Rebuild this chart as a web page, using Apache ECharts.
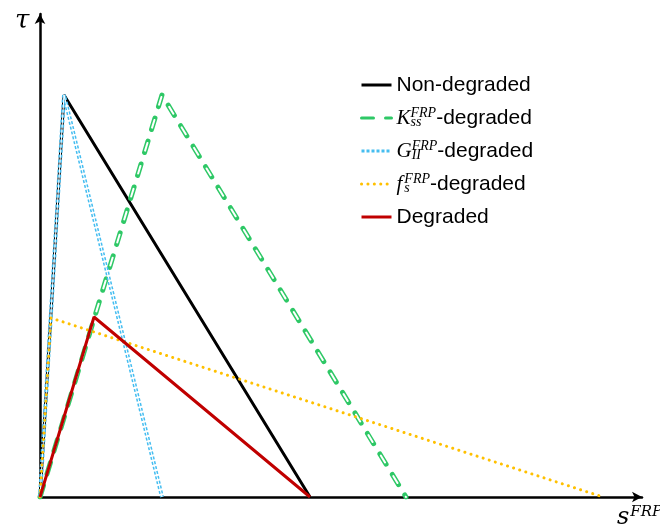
<!DOCTYPE html>
<html>
<head>
<meta charset="utf-8">
<script src="https://cdn.jsdelivr.net/npm/echarts@6/dist/echarts.min.js"></script>
<style>
  html, body { margin: 0; padding: 0; background: #fff; }
  #chart { width: 660px; height: 529px; }
</style>
</head>
<body>
<div id="chart"></div>
<script>
// Bond-slip (tau vs s) laws: trilinear points [slip, stress]
const seriesNames = ['Non-degraded', 'Kss-degraded', 'GII-degraded', 'fs-degraded', 'Degraded'];
const nonDegraded = [[0, 0], [24, 402], [270, 0]];
const kssDegraded = [[0, 0], [122, 402], [366, 0]];
const giiDegraded = [[0, 0], [24, 402], [122, 0]];
const fsDegraded  = [[0, 0], [11, 179], [563, 0]];
const degraded    = [[0, 0], [54, 180], [270, 0]];

const legendLabels = {
  'Non-degraded': 'Non-degraded',
  'Kss-degraded': '{m|K}{sub|ss}{sup|FRP}{t|-degraded}',
  'GII-degraded': '{m|G}{sub|II}{sup|FRP}{t|-degraded}',
  'fs-degraded':  '{m|f}{subf|s}{sup|FRP}{t|-degraded}',
  'Degraded': 'Degraded'
};

const chart = echarts.init(document.getElementById('chart'));
const mathFont = 'Liberation Serif';
const textFont = 'Liberation Sans';

function line(name, data, style, z) {
  return {
    name: name, type: 'line', data: data, symbol: 'none', z: z,
    itemStyle: { color: style.color },
    lineStyle: style, silent: true
  };
}

chart.setOption({
  animation: false,
  backgroundColor: '#fff',
  grid: { left: 40, right: 18, top: 14, bottom: 32 },
  xAxis: {
    type: 'value', min: 0, max: 602,
    axisLine: { show: true, symbol: ['none', 'arrow'], symbolSize: [8, 10],
      lineStyle: { color: '#000', width: 2.5 } },
    axisTick: { show: false }, axisLabel: { show: false }, splitLine: { show: false }
  },
  yAxis: {
    type: 'value', min: 0, max: 483,
    axisLine: { show: true, symbol: ['none', 'arrow'], symbolSize: [8, 10],
      lineStyle: { color: '#000', width: 2.5 } },
    axisTick: { show: false }, axisLabel: { show: false }, splitLine: { show: false }
  },
  legend: {
    data: seriesNames,
    orient: 'vertical',
    left: 355, top: 67,
    itemWidth: 30, itemHeight: 14, itemGap: 7,
    itemStyle: { opacity: 0 },
    lineStyle: { width: 3 },
    textStyle: {
      fontFamily: textFont, fontSize: 21, color: '#000', lineHeight: 26,
      rich: {
        m: { fontFamily: mathFont, fontStyle: 'italic', fontSize: 21, color: '#000' },
        sub: { fontFamily: mathFont, fontStyle: 'italic', fontSize: 14, color: '#000', width: 0, padding: [9, 0, 0, 0] },
        subf: { fontFamily: mathFont, fontStyle: 'italic', fontSize: 14, color: '#000', width: 0, padding: [9, 0, 0, 2] },
        sup: { fontFamily: mathFont, fontStyle: 'italic', fontSize: 14, color: '#000', padding: [0, 0, 10, 0] },
        t: { fontFamily: textFont, fontSize: 21, color: '#000' }
      }
    },
    formatter: function (name) { return legendLabels[name]; }
  },
  series: [
    line('Non-degraded', nonDegraded, { color: '#000', width: 3 }, 2),
    line('Kss-degraded', kssDegraded, { color: '#2ec866', width: 5, type: [12, 12], cap: 'round' }, 3),
    line('Kss-outline', kssDegraded, { color: '#fff', width: 2, type: [8, 16], dashOffset: 22, cap: 'round' }, 4),
    line('GII-degraded', giiDegraded, { color: '#45bdf0', width: 4, type: [3, 2] }, 5),
    line('GII-outline', giiDegraded, { color: '#fff', width: 1 }, 6),
    line('fs-degraded', fsDegraded, { color: '#ffc000', width: 3, type: [0.1, 6.3], cap: 'round' }, 7),
    line('Degraded', degraded, { color: '#c00000', width: 3 }, 8)
  ],
  graphic: [
    { type: 'text', x: 15, y: 21, style: { text: 'τ', font: 'italic 26px DejaVu Serif', fill: '#000', verticalAlign: 'middle' } },
    { type: 'text', x: 617, y: 518, style: {
        text: '{s|s}{sup|FRP}',
        verticalAlign: 'middle',
        rich: {
          s: { font: 'italic 24px DejaVu Serif', fill: '#000' },
          sup: { font: 'italic 15px DejaVu Serif', fill: '#000', padding: [0, 0, 12, 1] }
        }
    } }
  ]
});
</script>
</body>
</html>
